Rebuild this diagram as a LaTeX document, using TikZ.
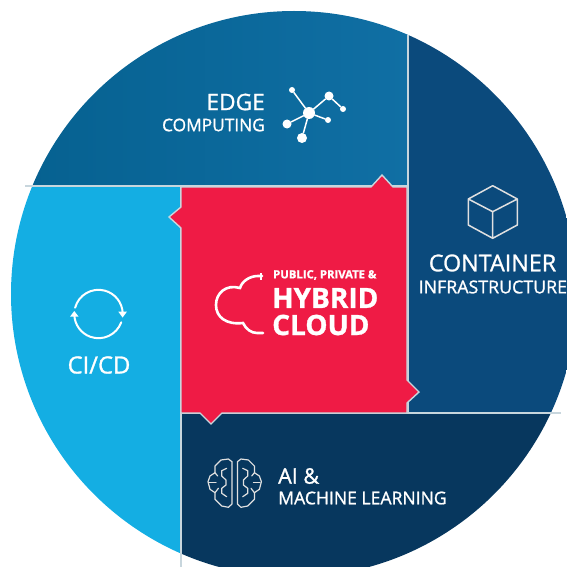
\documentclass[tikz,border=0pt]{standalone}
\usepackage{fontspec}
\setmainfont{Open Sans}[FakeBold=1.1]
\usetikzlibrary{arrows.meta}
\definecolor{edgeL}{HTML}{05608F}
\definecolor{edgeR}{HTML}{106FA4}
\definecolor{contC}{HTML}{0B4A7C}
\definecolor{aiC}{HTML}{07375E}
\definecolor{cicdC}{HTML}{14AEE3}
\definecolor{redC}{HTML}{EF1B45}
\definecolor{seam}{HTML}{C8D6DD}
\tikzset{
  seamline/.style={draw=seam,line width=1.4pt},
  iconline/.style={draw=white,line width=1.5pt,line join=round,line cap=round},
  cloudline/.style={draw=white,line width=2.6pt,line cap=round},
  iconthin/.style={draw=white!88!black,line width=1.2pt,line join=round,line cap=round},
  label/.style={text=white,inner sep=0pt,font=\fontsize{#1}{#1}\selectfont},
  boldlabel/.style={text=white,inner sep=0pt,font=\fontsize{#1}{#1}\selectfont\bfseries},
  edgeDot/.style={fill=white,draw=none,circle,inner sep=0pt,minimum size=#1},
}
\begin{document}
\begin{tikzpicture}[x=1pt,y=-1pt]
\useasboundingbox (0,0) rectangle (567,567);
\begin{scope}
  \clip (294,294) circle (283);
  \shade[left color=edgeL,right color=edgeR,shading angle=90] (0,0) rectangle (408,186);
  \fill[contC] (408,0) rectangle (600,413);
  \fill[aiC] (181,413) rectangle (600,600);
  \fill[cicdC] (0,186) rectangle (181,600);
\end{scope}
% seams
\coordinate (s1) at (408,35); \coordinate (s2) at (408,413);
\coordinate (s3) at (25,186); \coordinate (s4) at (408,186);
\coordinate (s5) at (181,186); \coordinate (s6) at (181,567);
\coordinate (s7) at (181,413); \coordinate (s8) at (561,413);
\draw[seamline] (s1) -- (s2);
\draw[seamline] (s3) -- (s4);
\draw[seamline] (s5) -- (s6);
\draw[seamline] (s7) -- (s8);
% red centre
\fill[redC,seamline] (181,187) -- (371,187) -- (382,175) -- (393,187) -- (407,187)
  -- (407,380) -- (419,392) -- (407,403) -- (407,413)
  -- (222,413) -- (211,424) -- (200,413) -- (181,413)
  -- (181,228) -- (169,217) -- (181,207) -- cycle;
% cloud
\draw[cloudline] (262,276) -- (258,276) .. controls (250,276) and (242,281) .. (240,288)
  .. controls (226,284) and (216,293) .. (216,305)
  .. controls (216,317) and (226,325) .. (243,323)
  .. controls (246,329) and (251,333) .. (257,333) -- (263,333);
\fill[white] (260,272.5) -- (262,272.5) -- (262,279.5) -- (260,279.5) -- cycle;
\node[boldlabel=11.3,anchor=west] (pub) at (273,275) {PUBLIC, PRIVATE \&};
\node[boldlabel=28,anchor=west] (hyb) at (272,298) {HYBRID};
\node[boldlabel=28,anchor=west] (clo) at (272,325) {CLOUD};
% edge
\node[label=22.7,anchor=east] (edge) at (265,102) {EDGE};
\node[label=17.3,anchor=east] (comp) at (265,125) {COMPUTING};
\node[edgeDot=12pt] (n0) at (309,113) {};
\node[edgeDot=6pt] (n1) at (292,90) {};
\node[edgeDot=9pt] (n2) at (329,96) {};
\node[edgeDot=6pt] (n3) at (343,109) {};
\node[edgeDot=9pt] (n4) at (287,124) {};
\node[edgeDot=6pt] (n5) at (328,120) {};
\node[edgeDot=10pt] (n6) at (302,138) {};
\draw[iconline] (n0)--(n1) (n0)--(n2) (n2)--(n3) (n0)--(n4) (n0)--(n5) (n0)--(n6);
% container
\draw[iconthin,line width=1.5pt] (492.7,185.7) -- (517.3,199) -- (517.3,225) -- (492.7,238.3) -- (468.3,225) -- (468.3,199) -- cycle
  (468.3,199) -- (492.7,211.7) -- (517.3,199) (492.7,211.7) -- (492.7,238.3);
\node[label=23.3,anchor=center] (cont) at (492.5,263) {CONTAINER};
\node[label=17.8,anchor=west] (inf) at (418.5,287) {INFRASTRUCTURE};
% ci/cd
\coordinate (cc) at (98.5,314);
\draw[iconline,line width=2pt] ([shift={(195:24.2)}]cc) arc[start angle=195,end angle=358,radius=24.2];
\draw[iconline,line width=2pt] ([shift={(20:24.2)}]cc) arc[start angle=20,end angle=178,radius=24.2];
\fill[white] (118.3,311.7) -- (126.9,311.7) -- (122.6,317.5) -- cycle;
\fill[white] (70,316.7) -- (78.6,316.7) -- (74.3,311) -- cycle;
\node[label=23.8] (cicd) at (99,365) {CI/CD};
% ai
\node[label=21.5,anchor=west] (ai) at (278,476) {AI \&};
\node[label=17.6,anchor=west] (ml) at (278,498) {MACHINE LEARNING};
\foreach \s in {1,-1}{
\begin{scope}[shift={(234.7,0)},xscale=\s]
  \draw[iconthin] (-2.7,461.7) -- (-6.3,459) -- (-13.7,460) -- (-19.7,466) -- (-19.7,472.7) -- (-24.7,476) -- (-26.7,481.7) -- (-24.7,489.3) -- (-19.7,492.7) -- (-19.7,499.3) -- (-13,506) -- (-6.3,507.3) -- (-2.7,504) -- cycle;
  \draw[iconthin] (-8,468.3) -- (-13,470.7) -- (-13,476) -- (-8.7,480) -- (-8.7,485) -- (-13,488.3) -- (-13,493.3) -- (-8,496.7);
  \draw[iconthin] (-25.3,482.3) -- (-18.7,482.3);
  \draw[iconthin] (-19.7,472.7) -- (-17,476) (-19.7,492.7) -- (-16.3,488.3);
\end{scope}}
\end{tikzpicture}
\end{document}
